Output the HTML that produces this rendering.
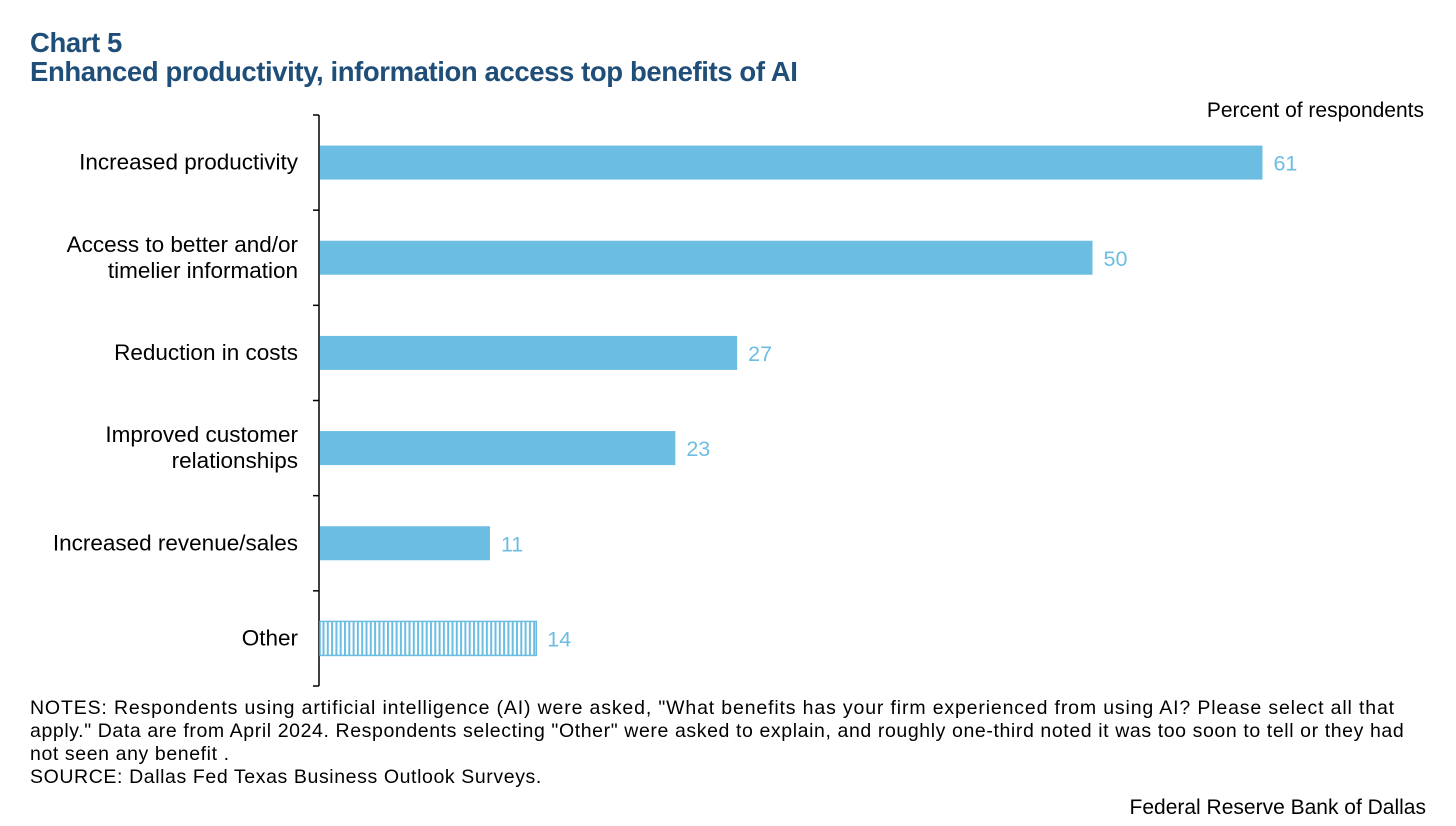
<!DOCTYPE html>
<html><head><meta charset="utf-8"><style>
body{margin:0;width:1456px;height:826px;background:#fff;font-family:"Liberation Sans",sans-serif;overflow:hidden;position:relative}
.t{position:absolute;color:#1f4e79;font-weight:bold;font-size:27.5px;left:30px;letter-spacing:-0.4px}
.n{position:absolute;left:30px;font-size:19.5px;color:#000;line-height:23px;white-space:nowrap}
</style></head><body>
<div class="t" style="top:27px">Chart 5</div>
<div class="t" style="top:56px">Enhanced productivity, information access top benefits of AI</div>
<svg width="1456" height="826" style="position:absolute;left:0;top:0" id="c">
<defs><pattern id="hatch" width="4.3" height="10" patternUnits="userSpaceOnUse"><rect width="4.3" height="10" fill="#fff"/><rect width="2" height="10" fill="#6bbde2"/></pattern></defs>
<text x="1424" y="117" text-anchor="end" font-size="21">Percent of respondents</text>
</svg>
<div class="n" style="top:697px"><span style="letter-spacing:0.85px">NOTES: Respondents using artificial intelligence (AI) were asked, "What benefits has your firm experienced from using AI? Please select all that</span><br><span style="letter-spacing:0.6px">apply." Data are from April 2024. Respondents selecting "Other" were asked to explain, and roughly one-third noted it was too soon to tell or they had</span><br><span style="letter-spacing:0.6px">not seen any benefit .</span><br><span style="letter-spacing:0.6px">SOURCE: Dallas Fed Texas Business Outlook Surveys.</span></div>
<div class="n" style="top:796px;left:auto;right:30px;font-size:21px">Federal Reserve Bank of Dallas</div>
<script>
const categories=[["Increased productivity"],["Access to better and/or","timelier information"],["Reduction in costs"],["Improved customer","relationships"],["Increased revenue/sales"],["Other"]];
const values=[61,50,27,23,11,14];
const hatched=[false,false,false,false,false,true];
const svg=document.getElementById('c');const NS='http://www.w3.org/2000/svg';
const x0=320,sc=15.45,top0=115,bot=686,step=(bot-top0)/categories.length,bh=34;
const xs=v=>x0+v*sc;
function mk(t,a){const e=document.createElementNS(NS,t);for(const k in a)e.setAttribute(k,a[k]);svg.appendChild(e);return e;}
const ax=mk('line',{x1:x0-1,y1:top0,x2:x0-1,y2:bot,stroke:'#000','stroke-width':1.5});


for(let i=0;i<=categories.length;i++){const y=top0+i*step;const tk=mk('line',{x1:x0-7,y1:y,x2:x0-1,y2:y,stroke:'#000','stroke-width':1.5});

}
values.forEach((v,i)=>{const cy=top0+(i+0.5)*step;
const r=mk('rect',{x:x0,y:cy-bh/2,width:xs(v)-x0,height:bh,fill:hatched[i]?'url(#hatch)':'#6bbde2',stroke:hatched[i]?'#6bbde2':'none','stroke-width':1.5});


const t=mk('text',{x:xs(v)+11,y:cy+8,'font-size':21.5,fill:'#6bbde2'});t.textContent=v;


const ls=categories[i];ls.forEach((s,j)=>{const l=mk('text',{x:298,y:cy+7+(j-(ls.length-1)/2)*26,'text-anchor':'end','font-size':22.5});l.textContent=s;

});});
</script>
</body></html>
